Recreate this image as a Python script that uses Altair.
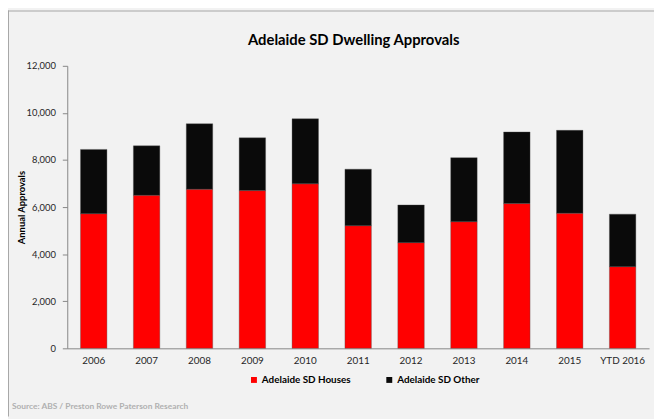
import altair as alt
import pandas as pd

# ---- data ----
years = ["2006", "2007", "2008", "2009", "2010", "2011", "2012", "2013", "2014", "2015", "YTD 2016"]
houses = [5720, 6500, 6760, 6700, 6990, 5210, 4490, 5380, 6150, 5740, 3470]
other = [2730, 2100, 2780, 2240, 2760, 2400, 1600, 2720, 3040, 3520, 2230]
series_names = ["Adelaide SD Houses", "Adelaide SD Other"]
series_colors = ["#ff0000", "#0a0a0a"]
title_text = "Adelaide SD Dwelling Approvals"
y_title = "Annual Approvals"
source_text = ["Source: ABS / Preston Rowe Paterson Research"]
y_ticks = [0, 2000, 4000, 6000, 8000, 10000, 12000]

rows = []
for i, yr in enumerate(years):
    rows.append({"year": yr, "series": series_names[0], "value": houses[i], "ord": 0})
    rows.append({"year": yr, "series": series_names[1], "value": other[i], "ord": 1})
df = pd.DataFrame(rows)

FONT = "Lato"

bars = alt.Chart(df).mark_bar(
    stroke="#505050", strokeWidth=0.6, strokeOpacity=0.6
).encode(
    x=alt.X("year:N", sort=years,
            scale=alt.Scale(paddingInner=0.5, paddingOuter=0.25),
            axis=alt.Axis(title=None, labelAngle=0, ticks=False, domainColor="#868686",
                          labelPadding=7, labelFontSize=10, labelFont=FONT,
                          labelColor="#262626")),
    y=alt.Y("value:Q", stack="zero",
            scale=alt.Scale(domain=[0, 12000], nice=False),
            axis=alt.Axis(title=y_title, values=y_ticks, format=",d", grid=False,
                          domainColor="#868686", tickColor="#868686", tickSize=5,
                          labelPadding=7, labelFontSize=9.5, labelFont=FONT,
                          labelColor="#262626", titleFont=FONT, titleFontSize=9.5,
                          titleFontWeight="bold", titleColor="#000000",
                          titleX=-46, titleY=143, titleAngle=-90,
                          titleBaseline="middle", titleAlign="center")),
    color=alt.Color("series:N", sort=series_names,
                    scale=alt.Scale(domain=series_names, range=series_colors),
                    legend=alt.Legend(title=None, orient="none", direction="horizontal",
                                      legendX=184, legendY=313, symbolType="square",
                                      symbolSize=36, symbolStrokeWidth=0,
                                      labelFont=FONT, labelFontSize=10,
                                      labelFontWeight="bold", labelColor="#000000",
                                      labelOffset=3, columnPadding=34, padding=0,
                                      labelLimit=300)),
    order=alt.Order("ord:Q", sort="ascending"),
)

src = alt.Chart(pd.DataFrame({"t": source_text})).mark_text(
    align="left", baseline="middle", font=FONT, fontSize=8.5, fontWeight="bold",
    color="#b0b0b0"
).encode(text="t:N", x=alt.value(-56), y=alt.value(344))

frame_df = pd.DataFrame({"k": [0]})
left_line = alt.Chart(frame_df).mark_rule(color="#a6a6a6", strokeWidth=1).encode(
    x=alt.value(-59.5), y=alt.value(-56), y2=alt.value(355))
top_line = alt.Chart(frame_df).mark_rule(color="#a6a6a6", strokeWidth=1).encode(
    x=alt.value(-60), x2=alt.value(594), y=alt.value(-55.5))

chart = alt.layer(bars, src, left_line, top_line).properties(
    width=589, height=286,
    autosize=alt.AutoSizeParams(type="none"),
    padding={"left": 60, "top": 56, "right": 5, "bottom": 69},
    title=alt.TitleParams(title_text, font=FONT, fontSize=15, fontWeight="bold",
                          color="#000000", anchor="middle", frame="group",
                          baseline="middle", dx=-4.5, dy=45, offset=0),
    background="#f2f2f2",
).configure_view(stroke=None)

chart.save("out.html", embed_options={"renderer": "svg", "actions": False})
